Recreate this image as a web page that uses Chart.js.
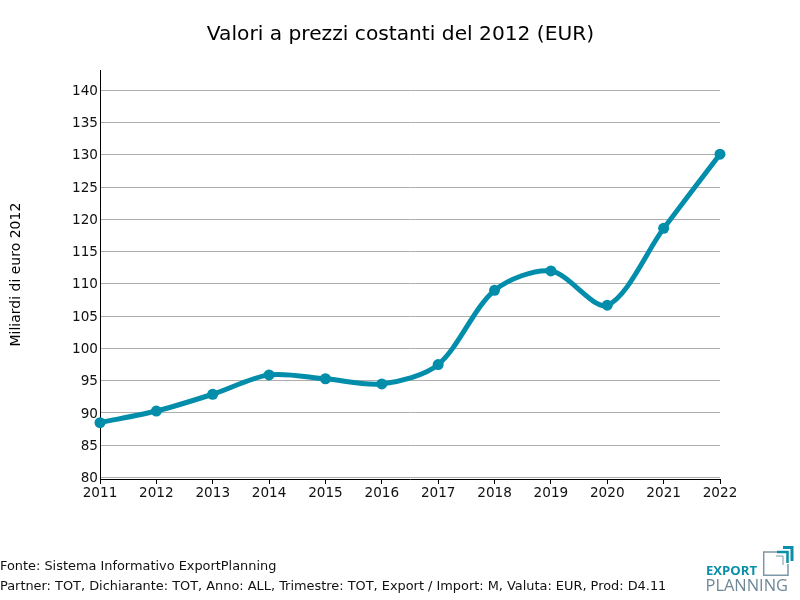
<!DOCTYPE html>
<html>
<head>
<meta charset="utf-8">
<script src="https://cdn.jsdelivr.net/npm/chart.js@4/dist/chart.umd.js"></script>
<style>
    html, body { margin: 0; padding: 0; background: #fff; }
    #wrap { position: relative; width: 800px; height: 600px; overflow: hidden; font-family: "DejaVu Sans", sans-serif; }
    .fonte { position: absolute; left: 0; font-size: 12.9px; line-height: 16px; color: #111; white-space: nowrap; }
    #logo { position: absolute; left: 700px; top: 540px; }
</style>
</head>
<body>
<div id="wrap">
    <canvas id="myChart" width="800" height="600"></canvas>
    <div class="fonte" style="top:558px">Fonte: Sistema Informativo ExportPlanning</div>
    <div class="fonte" style="top:578px">Partner: TOT, Dichiarante: TOT, Anno: ALL, Trimestre: TOT, Export / Import: M, Valuta: EUR, Prod: D4.11</div>
    <svg id="logo" width="100" height="56" viewBox="0 0 100 56">
        <path d="M77 12H63.7V35.3H88V24" fill="none" stroke="#7d97a5" stroke-width="1.5"/>
        <path d="M76 16H83V25" fill="none" stroke="#7d97a5" stroke-width="1"/>
        <path d="M83 7.5H92V21" fill="none" stroke="#0a8fab" stroke-width="3"/>
        <path d="M77 12H87.5V23" fill="none" stroke="#0a8fab" stroke-width="2.5"/>
        <text x="6" y="34.7" font-family="Open Sans" font-weight="700" font-size="12" textLength="51" lengthAdjust="spacingAndGlyphs" fill="#0a8fab">EXPORT</text>
        <text x="5.5" y="51" font-family="Open Sans" font-size="15.5" textLength="82.5" lengthAdjust="spacingAndGlyphs" fill="#6f8796">PLANNING</text>
    </svg>
</div>
<script>
// Dati
const anni = ['2011', '2012', '2013', '2014', '2015', '2016', '2017', '2018', '2019', '2020', '2021', '2022'];
const valori = [88.5, 90.3, 92.9, 95.9, 95.3, 94.5, 97.5, 109, 112, 106.7, 118.6, 130.1];
const tickValori = [80, 85, 90, 95, 100, 105, 110, 115, 120, 125, 130, 135, 140];

const ctx = document.getElementById('myChart').getContext('2d');
const font = { family: '"DejaVu Sans", sans-serif', size: 13.6 };

new Chart(ctx, {
    type: 'line',
    data: {
        labels: anni,
        datasets: [{
            data: valori,
            borderColor: '#028dab',
            backgroundColor: '#028dab',
            borderWidth: 5,
            tension: 0.3,
            pointRadius: 5.5,
            pointBackgroundColor: '#028dab',
            pointBorderWidth: 0,
            clip: false
        }]
    },
    options: {
        responsive: false,
        animation: false,
        devicePixelRatio: 1,
        layout: { padding: { left: 0, right: 80, top: 46, bottom: 91 } },
        plugins: {
            legend: { display: false },
            tooltip: { enabled: false },
            title: {
                display: true,
                text: 'Valori a prezzi costanti del 2012 (EUR)',
                color: '#000',
                font: { family: font.family, size: 20.2, weight: 'normal', lineHeight: 1.2 },
                padding: 0
            }
        },
        scales: {
            x: {
                offset: false,
                afterFit: (scale) => { scale.height = 30; },
                grid: { drawOnChartArea: false, color: '#000', tickColor: '#000', tickLength: 5 },
                border: { color: '#000', width: 1 },
                ticks: { color: '#111', font: font, maxRotation: 0, autoSkip: false, padding: 1 }
            },
            y: {
                min: 79.77,
                max: 143.1,
                afterFit: (scale) => { scale.width = 100; },
                afterBuildTicks: (scale) => { scale.ticks = tickValori.map(v => ({ value: v })); },
                grid: { color: '#adadad', lineWidth: 1, drawTicks: false },
                border: { color: '#000', width: 1 },
                ticks: { color: '#111', font: font, padding: 2, labelOffset: 1 },
                title: {
                    display: true,
                    text: 'Miliardi di euro 2012',
                    color: '#000',
                    font: { family: font.family, size: 14 },
                    padding: { top: 8, bottom: 0 }
                }
            }
        }
    },
    plugins: [{
        // Il titolo va centrato sulla pagina, non sull'area del grafico
        id: 'posizioneTitolo',
        afterLayout(chart) {
            const t = chart.titleBlock;
            t.left = 0;
            t.right = 801;
            t.top = 23;
            t.bottom = 47;
        }
    }]
});
</script>
</body>
</html>
